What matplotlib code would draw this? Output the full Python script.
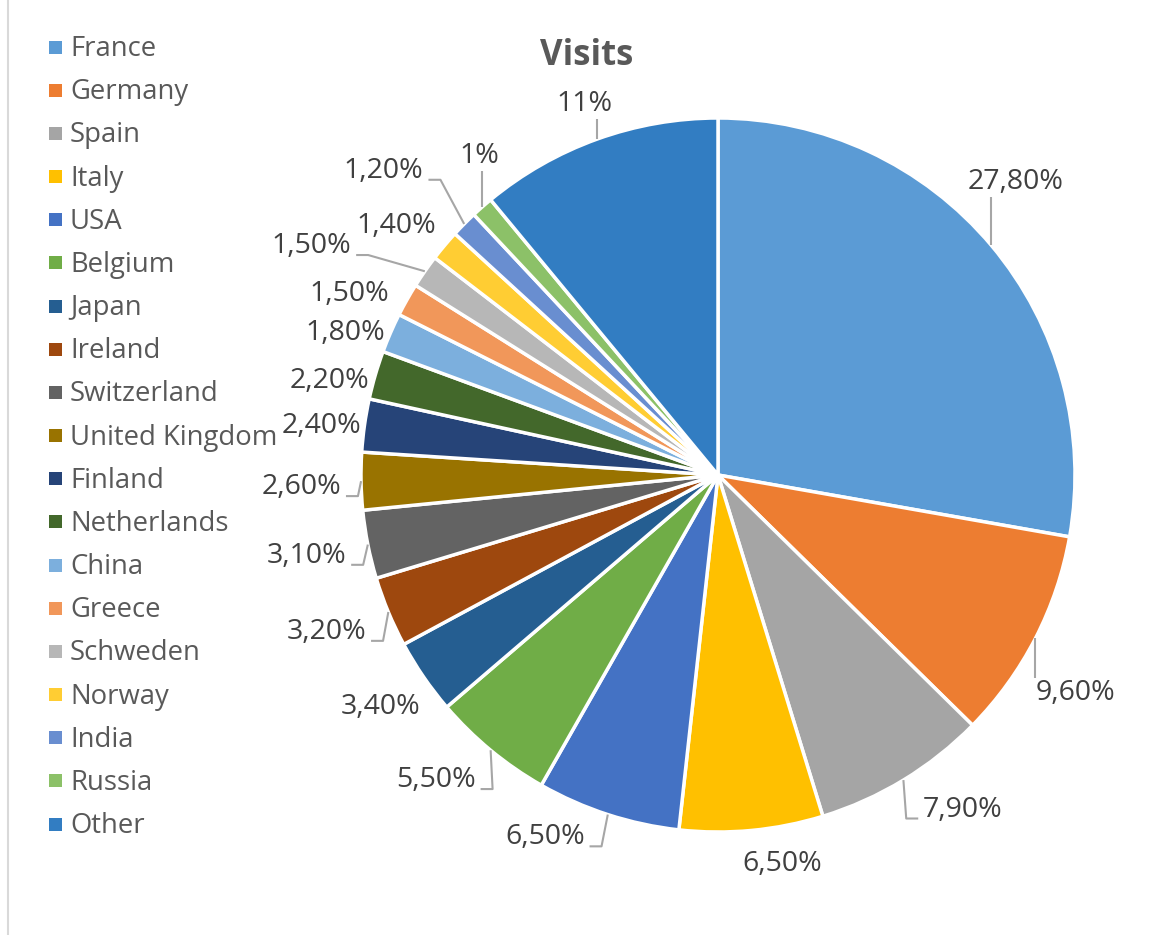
import numpy as np
import matplotlib.pyplot as plt
from matplotlib.patches import Rectangle

countries = ["France", "Germany", "Spain", "Italy", "USA", "Belgium", "Japan", "Ireland",
             "Switzerland", "United Kingdom", "Finland", "Netherlands", "China", "Greece",
             "Schweden", "Norway", "India", "Russia", "Other"]
shares = [27.8, 9.6, 7.9, 6.5, 6.5, 5.5, 3.4, 3.2, 3.1, 2.6, 2.4, 2.2, 1.8, 1.5, 1.5, 1.4, 1.2, 1.0, 11.0]
share_labels = ["27,80%", "9,60%", "7,90%", "6,50%", "6,50%", "5,50%", "3,40%", "3,20%",
                "3,10%", "2,60%", "2,40%", "2,20%", "1,80%", "1,50%", "1,50%", "1,40%",
                "1,20%", "1%", "11%"]
colors = ["#5B9BD5", "#ED7D31", "#A5A5A5", "#FFC000", "#4472C4", "#70AD47", "#255E91", "#9E480E",
          "#636363", "#997300", "#264478", "#43682B", "#7CAFDD", "#F1975A", "#B7B7B7", "#FFCD33",
          "#698ED0", "#8CC168", "#327DC2"]

# label placement: angle offset (deg) from wedge middle, distance in pie radii, leader kind
lbl_turn = [4.8, -3.9, 5.1, 4.1, -7.7, -3.4, -0.2, -1.0, -0.4, 0.4, 0.7, 2.4, 2.4, 3.0, 5.2, 2.0, 2.2, -4.7, -0.1]
lbl_dist = [1.174, 1.171, 1.157, 1.098, 1.12, 1.16, 1.143, 1.18, 1.174, 1.168, 1.12, 1.12, 1.12,
            1.154, 1.31, 1.143, 1.27, 1.12, 1.11]
lbl_leader = ['v', 'v', 'h', '', 'h', 'h', '', 'h', 'h', 'h', '', '', '', '', 'h', '', 'h', 'v', 'v']

W, H = 1157, 935
fig = plt.figure(figsize=(W / 100, H / 100), dpi=100)
ax = fig.add_axes([0, 0, 1, 1])

cx, cy, R = 718, 460, 357
wedges, _ = ax.pie(shares, colors=colors, startangle=90, counterclock=False,
                   center=(cx, cy), radius=R,
                   wedgeprops=dict(edgecolor='white', linewidth=2.5))
ax.set_xlim(0, W)
ax.set_ylim(0, H)
ax.set_aspect('equal')
ax.axis('off')

# border on the left
ax.plot([8, 8], [0, H], color='#D9D9D9', lw=1.5, clip_on=False)

font = 'Open Sans'
texts = []
mids = []
for w, s, turn, dist in zip(wedges, share_labels, lbl_turn, lbl_dist):
    m = (w.theta1 + w.theta2) / 2
    mids.append(m)
    a = np.deg2rad(m + turn)
    t = ax.text(cx + dist * R * np.cos(a), cy + dist * R * np.sin(a) - 2, s,
                ha='center', va='center', fontsize=20.5, color='#404040', family=font)
    texts.append(t)

fig.canvas.draw()
inv = ax.transData.inverted()
for t, m, kind in zip(texts, mids, lbl_leader):
    if not kind:
        continue
    bb = t.get_window_extent().transformed(inv)
    ex = cx + R * np.cos(np.deg2rad(m))
    ey = cy + R * np.sin(np.deg2rad(m))
    if kind == 'v':
        if bb.y0 > ey:
            xs, ys = [ex, ex], [bb.y0 - 1, ey]
        else:
            xs, ys = [ex, ex], [bb.y1 + 1, ey]
    else:
        if bb.x1 < ex:
            x0 = bb.x1 + 5
            xs = [x0, x0 + 12, ex]
        else:
            x0 = bb.x0 - 5
            xs = [x0, x0 - 12, ex]
        yb = bb.y0 + 5
        ys = [yb, yb, ey]
    ax.plot(xs, ys, color='#A6A6A6', lw=1.5, solid_capstyle='butt')

# legend
for i, (name, c) in enumerate(zip(countries, colors)):
    y = H - (47 + i * 43.17)
    ax.add_patch(Rectangle((48.5, y - 6.5), 13, 13, color=c, lw=0))
    ax.text(70, y - 2, name, ha='left', va='center', fontsize=19.8, color='#595959', family=font)

ax.text(587, H - 56, "Visits", ha='center', va='center', fontsize=25, fontweight='bold',
        color='#595959', family=font)

fig.savefig("out.png", dpi=100)
